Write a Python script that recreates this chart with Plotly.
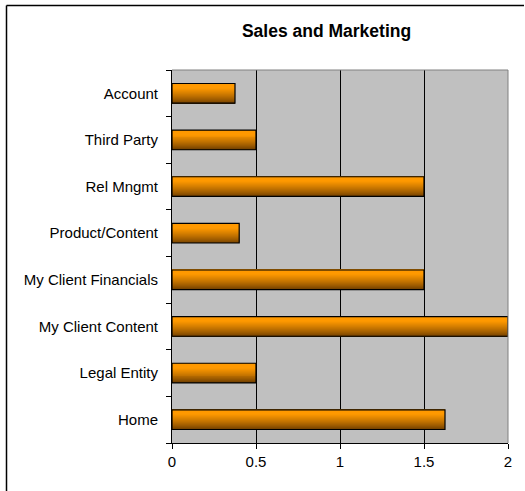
import plotly.graph_objects as go

# Sales and Marketing usage by area
categories = ["Home", "Legal Entity", "My Client Content", "My Client Financials",
              "Product/Content", "Rel Mngmt", "Third Party", "Account"]
values = [1.625, 0.5, 2.0, 1.5, 0.4, 1.5, 0.5, 0.375]
x_ticks = [0, 0.5, 1, 1.5, 2]
x_tick_labels = ["0", "0.5", "1", "1.5", "2"]

BAR_W = 0.42
N_STRIPS = 20
TOP = (255, 153, 0)
BOTTOM = (95, 52, 0)
FONT = "Liberation Sans, Arial, sans-serif"


def shade(t):
    # t = 0 at the bottom edge of a bar, 1 at the top
    k = min(1.0, t / 0.8)
    k = k ** 0.75
    return "rgb(%d,%d,%d)" % tuple(round(b + (a - b) * k) for a, b in zip(TOP, BOTTOM))


fig = go.Figure()

# vertical gradient built from thin horizontal strips of each bar
strip = BAR_W / N_STRIPS
for i in range(N_STRIPS):
    fig.add_trace(go.Bar(
        y=categories, x=values, orientation="h",
        width=strip * 1.05, offset=-BAR_W / 2 + i * strip,
        marker=dict(color=shade((i + 0.5) / N_STRIPS), line=dict(width=0)),
        hoverinfo="skip", showlegend=False,
    ))

# outline of each bar
fig.add_trace(go.Bar(
    y=categories, x=values, orientation="h",
    width=BAR_W, offset=-BAR_W / 2,
    marker=dict(color="rgba(0,0,0,0)", line=dict(color="black", width=1.2)),
    showlegend=False,
))

PLOT_H = 491 - 70 - 48
PLOT_W = 525 - 172 - 17
TOP_Y = (491 - 5.5 - 48) / PLOT_H

fig.update_layout(
    width=525, height=491,
    barmode="overlay",
    paper_bgcolor="white",
    plot_bgcolor="#C0C0C0",
    margin=dict(l=172, r=17, t=70, b=48),
    font=dict(family=FONT, size=15, color="black"),
    title=dict(text="<b>Sales and Marketing</b>", x=0.622, xanchor="center",
               y=0.937, yanchor="middle", font=dict(family=FONT, size=17.5, color="black")),
    xaxis=dict(
        range=[0, 2], tickvals=x_ticks, ticktext=x_tick_labels,
        showgrid=True, gridcolor="black", gridwidth=1,
        showline=True, linecolor="black", linewidth=1,
        ticks="outside", ticklen=5, tickcolor="black",
        zeroline=False, mirror=False,
    ),
    yaxis=dict(
        type="category", categoryorder="array", categoryarray=categories,
        range=[-0.5, len(categories) - 0.5],
        showgrid=False, showline=True, linecolor="black", linewidth=1,
        ticks="outside", ticklen=5, tickcolor="black", tickson="boundaries",
        ticklabelstandoff=10, zeroline=False,
    ),
    shapes=[
        # grey border on top and right of the plotting area
        dict(type="line", xref="paper", yref="paper", x0=0, x1=1, y0=1, y1=1,
             line=dict(color="#808080", width=1)),
        dict(type="line", xref="paper", yref="paper", x0=1, x1=1, y0=0, y1=1,
             line=dict(color="#808080", width=1)),
        # chart frame (left and top edges)
        dict(type="line", xref="paper", yref="paper",
             x0=-165.5 / PLOT_W, x1=-165.5 / PLOT_W, y0=-48 / PLOT_H, y1=TOP_Y,
             line=dict(color="black", width=1.5)),
        dict(type="line", xref="paper", yref="paper",
             x0=-165.5 / PLOT_W, x1=(524 - 172) / PLOT_W, y0=TOP_Y, y1=TOP_Y,
             line=dict(color="black", width=1.5)),
    ],
)

fig.write_html("out.html", config=dict(displayModeBar=False))
